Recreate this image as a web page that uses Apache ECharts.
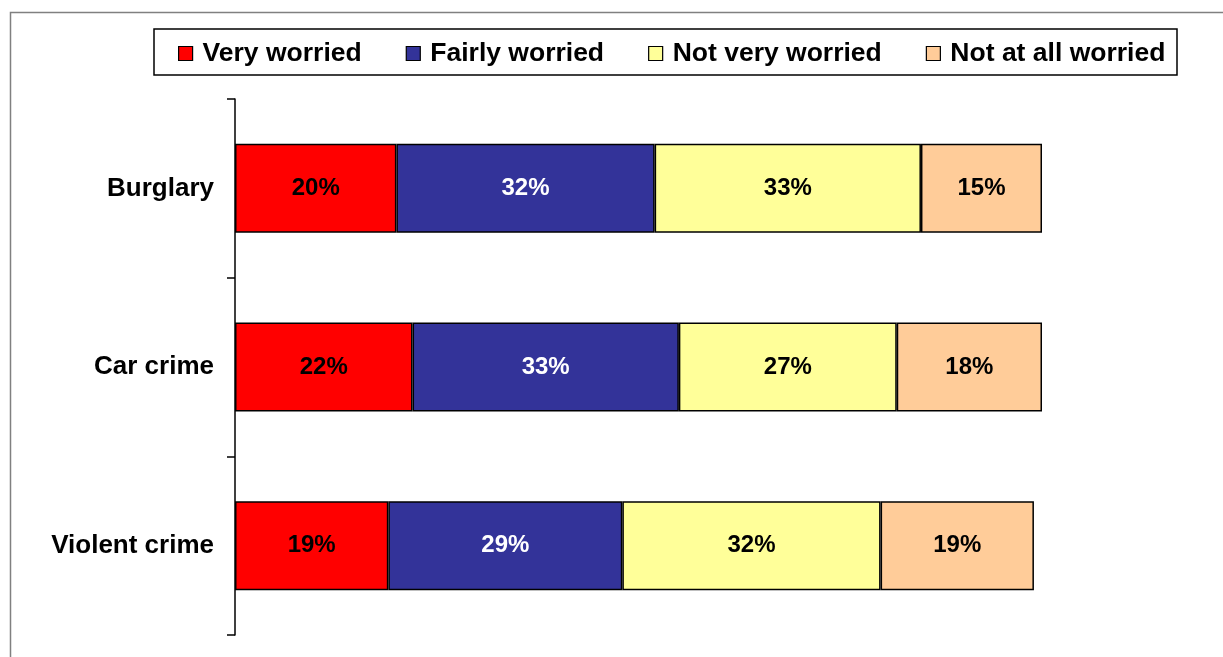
<!DOCTYPE html>
<html>
<head>
<meta charset="utf-8">
<script src="https://cdn.jsdelivr.net/npm/echarts@6/dist/echarts.min.js"></script>
<style>
html, body { margin: 0; padding: 0; background: #fff; }
#worry_chart { width: 1223px; height: 657px; }
</style>
</head>
<body>
<div id="worry_chart"></div>
<script>
var categories = ['Burglary', 'Car crime', 'Violent crime'];
var seriesNames = ['Very worried', 'Fairly worried', 'Not very worried', 'Not at all worried'];
var veryWorried = [20, 22, 19];
var fairlyWorried = [32, 33, 29];
var notVeryWorried = [33, 27, 32];
var notAtAllWorried = [15, 18, 19];

var colors = ['#ff0000', '#333399', '#ffff99', '#ffcc99'];
var labelColors = ['#000', '#fff', '#000', '#000'];
var fontFamily = 'Arial, "Liberation Sans", sans-serif';

var myWorryChart = echarts.init(document.getElementById('worry_chart'));
myWorryChart.setOption(getWorryOption());

function makeSeries(idx, values) {
	return {
		name: seriesNames[idx],
		type: 'bar',
		stack: 'total',
		barWidth: 89,
		data: values,
		itemStyle: {
			color: colors[idx],
			borderColor: '#000',
			borderWidth: 1.5
		},
		label: {
			show: true,
			position: 'inside',
			formatter: '{c}%',
			color: labelColors[idx],
			fontFamily: fontFamily,
			fontWeight: 'bold',
			fontSize: 24
		},
		emphasis: { disabled: true }
	};
}

function getWorryOption() {
	var option = {
		backgroundColor: '#fff',
		animation: false,
		graphic: [
			{
				// outer chart frame
				type: 'rect',
				shape: { x: 10.5, y: 12.5, width: 1240, height: 680 },
				style: { fill: 'none', stroke: '#808080', lineWidth: 1.5 }
			},
			{
				// legend box
				type: 'rect',
				shape: { x: 154, y: 29, width: 1023, height: 46 },
				style: { fill: 'none', stroke: '#000', lineWidth: 1.5 }
			}
		],
		legend: {
			left: 178,
			top: 40,
			padding: 0,
			itemWidth: 14,
			itemHeight: 14,
			itemGap: 44,
			icon: 'rect',
			data: seriesNames,
			itemStyle: { borderColor: '#000', borderWidth: 1.2 },
			formatter: function (name) {
				return '{t|' + name + '}';
			},
			textStyle: {
				color: '#000',
				fontFamily: fontFamily,
				fontWeight: 'bold',
				fontSize: 26.5,
				rich: {
					t: {
						padding: [0, 0, 0, 5],
						color: '#000',
						fontFamily: fontFamily,
						fontWeight: 'bold',
						fontSize: 26.5
					}
				}
			}
		},
		grid: {
			left: 235,
			right: 181,
			top: 99,
			bottom: 22,
			containLabel: false
		},
		xAxis: {
			type: 'value',
			min: 0,
			max: 100,
			show: false
		},
		yAxis: {
			type: 'category',
			inverse: true,
			data: categories,
			axisLine: { show: true, lineStyle: { color: '#000', width: 1.5 } },
			axisTick: { show: true, length: 8, lineStyle: { color: '#000', width: 1.5 } },
			axisLabel: {
				margin: 21,
				color: '#000',
				fontFamily: fontFamily,
				fontWeight: 'bold',
				fontSize: 26
			}
		},
		series: [
			makeSeries(0, veryWorried),
			makeSeries(1, fairlyWorried),
			makeSeries(2, notVeryWorried),
			makeSeries(3, notAtAllWorried)
		]
	};
	return option;
}
</script>
</body>
</html>
